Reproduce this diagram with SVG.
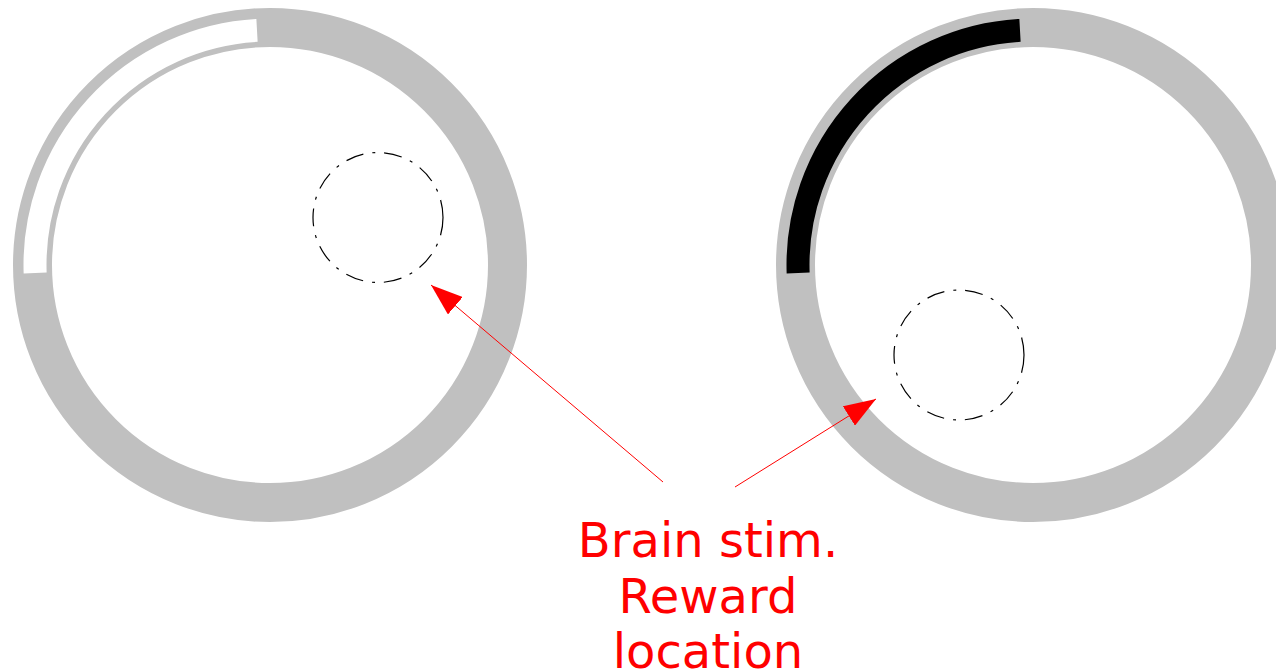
<svg xmlns="http://www.w3.org/2000/svg" width="1276" height="671" viewBox="0 0 1276 671">
<style>
.ring{fill:none;stroke:#c0c0c0;stroke-width:39}
.band{fill:none;stroke-width:23;stroke-linecap:butt}
.zone{fill:none;stroke:#000;stroke-width:1.2;stroke-dasharray:18 9 3 9}
.arrow{stroke:#ff0000;stroke-width:1;fill:none;marker-end:url(#head)}
.label{font-family:"DejaVu Sans","Liberation Sans",sans-serif;font-size:48px;fill:#ff0000;text-anchor:middle}
</style>
<defs>
<marker id="head" markerUnits="userSpaceOnUse" viewBox="0 0 32 23" markerWidth="32" markerHeight="23" refX="32" refY="11.5" orient="auto">
<path d="M0,0 L32,11.5 L0,23 Z" fill="#ff0000"/>
</marker>
</defs>
<rect width="1276" height="671" fill="#fff"/>
<g id="arena-left">
<circle class="ring" cx="270" cy="265" r="237.5"/>
<path class="band" stroke="#fff" d="M35.14 273 A235 235 0 0 1 257 30.36"/>
<circle id="reward-left" class="zone" cx="378" cy="217.5" r="65"/>
</g>
<g id="arena-right">
<circle class="ring" cx="1033" cy="265" r="237.5"/>
<path class="band" stroke="#000" d="M798.14 273 A235 235 0 0 1 1020 30.36"/>
<circle id="reward-right" class="zone" cx="959" cy="355" r="65"/>
</g>
<g id="connectors">
<line class="arrow" x1="663" y1="482" x2="431" y2="285"/>
<line class="arrow" x1="735" y1="487" x2="876" y2="399"/>
</g>
<g id="label">
<text class="label" x="708" y="557">Brain stim.</text>
<text class="label" x="708" y="612.5">Reward</text>
<text class="label" x="708" y="668">location</text>
</g>
</svg>
